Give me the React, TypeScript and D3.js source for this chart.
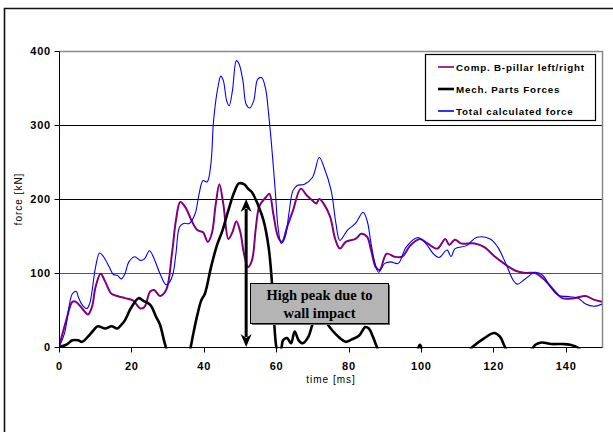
import React from 'react';
import * as d3 from 'd3';

const W = 613, H = 432;

const xTicks = [0, 20, 40, 60, 80, 100, 120, 140];
const yTicks = [0, 100, 200, 300, 400];
const gridValues = [100, 200, 300];

const seriesNames = ['Comp. B-pillar left/right', 'Mech. Parts Forces', 'Total calculated force'];
const seriesColors = ['#800080', '#000000', '#0000ff'];
const seriesWidths = [2, 2.6, 1.1];

// Comp. B-pillar left/right
const pillarT = [0, 2, 3.7, 4.7, 6.4, 8, 9.1, 10.1, 11.5, 12.8, 14.5, 16.1, 18.2, 20.4, 22.5, 23.6, 25.2, 26.3, 27.9, 29.6,
  31.2, 32.3, 33.5, 34.9, 36.6, 38.2, 39.8, 41.1, 42.2, 43.3, 44.3, 45.4, 46.8, 47.9, 49, 50.1, 51.1, 52.2, 53.3, 54.4,
  55.4, 57.1, 58.1, 59.2, 60.5, 61.6, 63, 64.6, 66.8, 68.4, 70, 71.1, 71.9, 73.2, 74.9, 76.3, 77.6, 79.2, 81.9, 83.5,
  85.1, 86.2, 87.5, 88.6, 90.5, 92.7, 94.8, 97, 99.7, 101.8, 104.5, 106.7, 107.8, 109.4, 111, 114.8, 117.5, 120.2, 122.9,
  126.1, 128.8, 131.5, 134.3, 137, 139, 142.3, 145.5, 147.7, 150];
const pillarV = [0, 36, 61, 61, 52, 44, 54, 81, 99, 88, 72, 69, 66, 63, 52, 54, 75, 77, 69, 77,
  126, 171, 196, 189, 171, 158, 155, 142, 153, 193, 220, 193, 146, 155, 170, 155, 126, 108, 117, 162,
  191, 202, 207, 180, 149, 142, 162, 184, 214, 205, 198, 194, 200, 193, 176, 146, 133, 142, 146, 153,
  149, 131, 108, 104, 126, 122, 122, 137, 146, 140, 133, 146, 138, 145, 140, 140, 135, 123, 113,
  103, 100, 100, 90, 75, 66, 66, 69, 64, 61];

// Mech. Parts Forces (dips below zero are clipped by the axis)
const mechT = [0, 2, 3.7, 5.3, 6.4, 8, 9.6, 10.7, 12.8, 14.5, 16.1, 17.2, 18.2, 19.8, 22, 23.1, 25.2, 26.8, 27.9, 29,
  29.6, 31, 35, 36.3, 37.1, 38.2, 39.3, 40.3, 42, 43.6, 45.2, 46.8, 48.4, 49.7, 51.1, 52.2, 53.3, 54.9, 56.5, 57.9,
  58.7, 59.4, 60.1, 60.8, 61.5, 61.9, 63, 64.1, 65.1, 66.2, 67.3, 68.9, 70, 71.5, 72.8, 73.8, 75.4, 77.6, 79.2, 80.8,
  83, 84.6, 85.6, 86.7, 87.8, 89, 98.5, 99.7, 100.8, 112.5, 114.2, 117.5, 120.2, 121.8, 123.4, 125, 130, 131.6, 133.3,
  136, 139, 141.2, 143.4, 145, 150];
const mechV = [0, 3, 9, 9, 7, 14, 23, 28, 25, 28, 25, 30, 36, 52, 66, 63, 57, 41, 30, 9,
  -2, -30, -30, -2, 18, 43, 63, 72, 108, 137, 158, 185, 209, 221, 220, 214, 209, 193, 171, 135,
  95, 36, -2, -12, 0, 9, 12, 5, 21, 9, 5, 14, 30, 45, 44, 34, 23, 12, 7, 10,
  16, 27, 25, 14, 0, -15, -8, 3, -8, -8, 0, 12, 19, 14, -2, -12, -6, 3, 6,
  4, 4, 3, -1, -10, -10];

// Total calculated force
const totalT = [0, 1.5, 3.7, 4.8, 5.3, 6.4, 7.7, 8.5, 10.1, 11.2, 12.3, 13.9, 15, 16.1, 17.2, 18.2, 19.3, 20.9, 22.5, 23.6,
  25, 26.3, 27.9, 29.6, 30.6, 31.5, 32.3, 33.3, 34.4, 36, 37.6, 38.7, 39.8, 40.9, 41.95, 42.7, 43.9, 44.7, 45.4, 46.3,
  47, 47.9, 49, 49.7, 50.8, 51.7, 52.7, 53.8, 54.9, 56, 57.1, 57.9, 58.7, 59.8, 60.5, 61.4, 62.5, 63.5, 64.6, 65.7,
  67.8, 70, 71.9, 73.2, 75.2, 76.5, 77.6, 79.7, 81.9, 84, 85.1, 86.2, 87.3, 88.3, 90, 91.6, 93.7, 95.9, 99.1, 101.3,
  103.4, 105, 107.2, 108.3, 109.4, 112.6, 115.3, 119.1, 121.2, 123.4, 125.5, 126.6, 128.8, 131.5, 133.6, 135.8, 137.9,
  141.2, 143.4, 145.5, 147.7, 150];
const totalV = [0, 18, 72, 75, 68, 57, 52, 59, 108, 127, 122, 108, 98, 97, 92, 99, 115, 122, 117, 119,
  130, 119, 99, 84, 88, 99, 126, 162, 167, 167, 180, 207, 225, 223, 247, 306, 351, 366, 360, 333,
  326, 346, 387, 383, 360, 328, 323, 333, 362, 364, 348, 315, 274, 207, 162, 140, 149, 180, 211, 218,
  220, 229, 256, 243, 211, 167, 144, 158, 167, 182, 171, 140, 113, 101, 113, 115, 113, 135, 148, 140,
  126, 121, 131, 122, 133, 137, 148, 146, 135, 113, 90, 85, 92, 101, 97, 81, 70,
  68, 66, 58, 55, 58];

const noteLines = ['High peak due to', 'wall impact'];
const arrowAt = 51.7;
const arrowSpan = [0, 200];

const series = [
  { t: pillarT, v: pillarV },
  { t: mechT, v: mechV },
  { t: totalT, v: totalV },
];

// snap to pixel centre for crisp 1px lines
const crisp = (p: number) => Math.round(p) + 0.5;

export default function App() {
  const x = d3.scaleLinear().domain([0, 150]).range([59, 602]);
  const y = d3.scaleLinear().domain([0, 400]).range([347, 51]);

  const line = d3.line<[number, number]>()
    .x(d => x(d[0]))
    .y(d => y(d[1]))
    .curve(d3.curveCatmullRom.alpha(0.5));

  const ax = x(arrowAt);
  const ay0 = y(arrowSpan[0]);
  const ay1 = y(arrowSpan[1]);

  // note box, in data units
  const bx0 = crisp(x(52.7)), bx1 = crisp(x(90.9));
  const by0 = crisp(y(86)), by1 = crisp(y(32.5));

  const sans = 'Arial, "Liberation Sans", sans-serif';
  const tickFont = { fontFamily: sans, fontWeight: 700, fontSize: 11, letterSpacing: 0.8 };
  const x0 = crisp(x(0)), x1 = crisp(x(150)), yb = crisp(y(0)), yt = crisp(y(400));

  return (
    <svg width={W} height={H} style={{ position: 'absolute', left: 0, top: 0, background: '#fff' }}>
      <defs>
        <clipPath id="plot">
          <rect x={x(0)} y={y(400) - 2} width={x(150) - x(0)} height={y(0) - y(400) + 3.5} />
        </clipPath>
      </defs>
      <rect x={0} y={0} width={W} height={H} fill="#fff" />
      {/* outer frame */}
      <path d={`M4.5,${H} V8.5 H${W}`} fill="none" stroke="#111" strokeWidth={1.6} />

      {/* gridlines */}
      {gridValues.map(v => (
        <line key={v} x1={x0} x2={x1} y1={crisp(y(v))} y2={crisp(y(v))} stroke={v === 100 ? '#555' : '#000'} strokeWidth={1} />
      ))}
      {/* plot border top/right */}
      <path d={`M${x0},${yt} H${x1} V${yb}`} fill="none" stroke="#888" strokeWidth={1.5} />

      {/* series */}
      <g clipPath="url(#plot)">
        {series.map((s, i) => (
          <path key={i}
            d={line(s.t.map((t, j) => [t, s.v[j]] as [number, number])) || ''}
            fill="none" stroke={seriesColors[i]} strokeWidth={seriesWidths[i]} strokeLinejoin="round" />
        ))}
      </g>

      {/* axes */}
      <line x1={x0} x2={x0} y1={yt} y2={yb} stroke="#000" />
      <line x1={x0} x2={x1} y1={yb} y2={yb} stroke="#000" />
      {yTicks.map(v => (
        <g key={v}>
          <line x1={x0 - 5} x2={x0} y1={crisp(y(v))} y2={crisp(y(v))} stroke="#000" />
          <text x={x(0) - 8} y={y(v)} dy="0.36em" textAnchor="end" style={tickFont}>{v}</text>
        </g>
      ))}
      {xTicks.map(t => (
        <g key={t}>
          <line x1={crisp(x(t))} x2={crisp(x(t))} y1={yb} y2={yb + 5} stroke="#000" />
          <text x={x(t) + 0.4} y={370} textAnchor="middle" style={tickFont}>{t}</text>
        </g>
      ))}
      <text x={331} y={383} textAnchor="middle"
        style={{ fontFamily: sans, fontSize: 10, letterSpacing: 1 }}>time [ms]</text>
      <text transform={`translate(22,${y(200)}) rotate(-90)`} textAnchor="middle"
        style={{ fontFamily: sans, fontSize: 10, letterSpacing: 1 }}>force [kN]</text>

      {/* note box */}
      <rect x={bx0 + 1.5} y={by0 + 1.5} width={bx1 - bx0} height={by1 - by0} fill="#666" />
      <rect x={bx0} y={by0} width={bx1 - bx0} height={by1 - by0} fill="#b4b4b4" stroke="#000" strokeWidth={1} />
      {noteLines.map((s, i) => (
        <text key={s} x={(bx0 + bx1) / 2} y={by0 + 16 + i * 18} textAnchor="middle"
          style={{ fontFamily: '"Liberation Serif", "Times New Roman", serif', fontWeight: 700, fontSize: 14.5 }}>{s}</text>
      ))}

      {/* double-headed arrow */}
      <line x1={ax} x2={ax} y1={ay1 + 10} y2={ay0 - 10} stroke="#000" strokeWidth={3} />
      <path d={`M${ax},${ay1} L${ax - 5.5},${ay1 + 13} L${ax},${ay1 + 9} L${ax + 5.5},${ay1 + 13} Z`} fill="#000" />
      <path d={`M${ax},${ay0} L${ax - 5.5},${ay0 - 13} L${ax},${ay0 - 9} L${ax + 5.5},${ay0 - 13} Z`} fill="#000" />

      {/* legend */}
      <rect x={425.5} y={54.5} width={170} height={66} fill="#fff" stroke="#000" strokeWidth={1.2} />
      {seriesNames.map((n, i) => (
        <g key={n} transform={`translate(438,${67 + i * 22})`}>
          <line x1={0} x2={16} y1={0} y2={0} stroke={seriesColors[i]} strokeWidth={i === 1 ? 2.6 : 1.6} />
          <text x={18} y={0} dy="0.36em"
            style={{ fontFamily: sans, fontWeight: 700, fontSize: 9.8, letterSpacing: 0.8 }}>{n}</text>
        </g>
      ))}
    </svg>
  );
}
